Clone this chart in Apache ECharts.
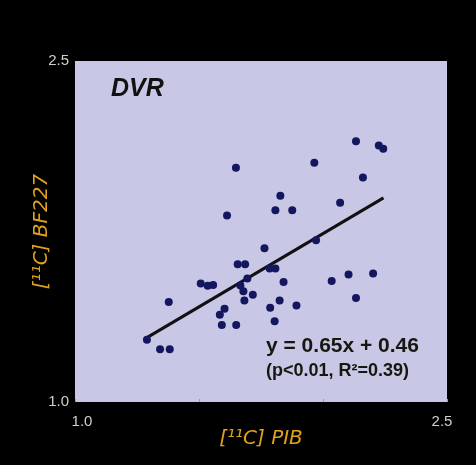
<!DOCTYPE html>
<html>
<head>
<meta charset="utf-8">
<script src="https://cdn.jsdelivr.net/npm/echarts@6/dist/echarts.min.js"></script>
<style>
  html, body { margin: 0; padding: 0; background: #000; }
  #chart { width: 476px; height: 465px; }
</style>
</head>
<body>
<div id="chart"></div>
<script>
// PIB (x) vs BF227 (y), DVR values
var pibValues = [1.29, 1.343, 1.382, 1.378, 1.507, 1.535, 1.557, 1.584, 1.603, 1.592,
  1.65, 1.613, 1.649, 1.656, 1.686, 1.764, 1.695, 1.667, 1.679, 1.717,
  1.683, 1.785, 1.808, 1.841, 1.825, 1.787, 1.805, 1.893, 1.808, 1.828,
  1.876, 1.965, 1.972, 2.035, 2.103, 2.133, 2.202, 2.069, 2.161, 2.133,
  2.225, 2.243];
var bf227Values = [1.274, 1.232, 1.232, 1.44, 1.521, 1.511, 1.515, 1.384, 1.41, 1.339,
  1.339, 1.82, 2.03, 1.606, 1.606, 1.676, 1.543, 1.513, 1.487, 1.472,
  1.446, 1.587, 1.587, 1.528, 1.447, 1.415, 1.355, 1.425, 1.844, 1.907,
  1.843, 2.052, 1.712, 1.532, 1.561, 1.457, 1.565, 1.877, 1.988, 2.147,
  2.128, 2.114];
// regression line ends as drawn
var fitX = [1.29, 2.244];
var fitY = [1.283, 1.898];
var axisLabels = ['1.0', '2.5'];

var points = pibValues.map(function (x, i) { return [x, bf227Values[i]]; });
var fitLine = fitX.map(function (x, i) { return [x, fitY[i]]; });

var font = '"Liberation Sans", Arial, sans-serif';
var wideFont = '"DejaVu Sans", sans-serif';

var myChart = echarts.init(document.getElementById('chart'));
myChart.setOption({
  backgroundColor: '#000',
  animation: false,
  grid: {
    left: 75, right: 29, top: 61, bottom: 63,
    show: true,
    backgroundColor: '#c8c7e5',
    borderWidth: 0
  },
  xAxis: {
    type: 'value',
    min: 1.0, max: 2.5, interval: 0.5,
    name: '[¹¹C] PIB',
    nameLocation: 'middle',
    nameGap: 27,
    nameMoveOverlap: false,
    nameTextStyle: { color: '#e0a21c', fontSize: 20, fontStyle: 'italic', fontFamily: wideFont },
    axisLine: { show: false },
    axisTick: { show: true, inside: true, length: 3, lineStyle: { color: '#9a9ab8' } },
    splitLine: { show: false },
    axisLabel: {
      color: '#cfcfcf', fontSize: 15, fontFamily: font, margin: 12,
      formatter: function (v) {
        var s = v.toFixed(1);
        if (s === axisLabels[0]) return '{lo|' + s + '}';
        if (s === axisLabels[1]) return '{hi|' + s + '}';
        return '';
      },
      rich: {
        lo: { color: '#cfcfcf', fontSize: 15, fontFamily: font, padding: [0, 0, 0, 14] },
        hi: { color: '#cfcfcf', fontSize: 15, fontFamily: font, padding: [0, 10, 4, 0] }
      }
    }
  },
  yAxis: {
    type: 'value',
    min: 1.0, max: 2.5, interval: 0.5,
    name: '[¹¹C] BF227',
    nameLocation: 'middle',
    nameRotate: 90,
    nameGap: 23,
    nameMoveOverlap: false,
    nameTextStyle: { color: '#e0a21c', fontSize: 20, fontStyle: 'italic', fontFamily: wideFont },
    axisLine: { show: false },
    axisTick: { show: false },
    splitLine: { show: false },
    axisLabel: {
      color: '#cfcfcf', fontSize: 15, fontFamily: font, margin: 6,
      formatter: function (v) {
        var s = v.toFixed(1);
        return axisLabels.indexOf(s) >= 0 ? s : '';
      }
    }
  },
  graphic: [
    {
      type: 'text', left: 111, top: 77,
      style: { text: 'DVR', fill: '#111', font: 'italic bold 25px ' + font }
    },
    {
      type: 'text', left: 266, top: 336,
      style: { text: 'y = 0.65x + 0.46', fill: '#15180f', font: 'bold 21px ' + font }
    },
    {
      type: 'text', left: 266, top: 362,
      style: { text: '(p<0.01, R²=0.39)', fill: '#15180f', font: 'bold 18px ' + font }
    }
  ],
  series: [
    {
      name: 'fit',
      type: 'line',
      data: fitLine,
      symbol: 'none',
      lineStyle: { color: '#111', width: 3 },
      z: 2
    },
    {
      name: 'DVR',
      type: 'scatter',
      data: points,
      symbolSize: 8,
      itemStyle: { color: '#14165f', opacity: 1 },
      z: 3
    }
  ]
});
</script>
</body>
</html>
